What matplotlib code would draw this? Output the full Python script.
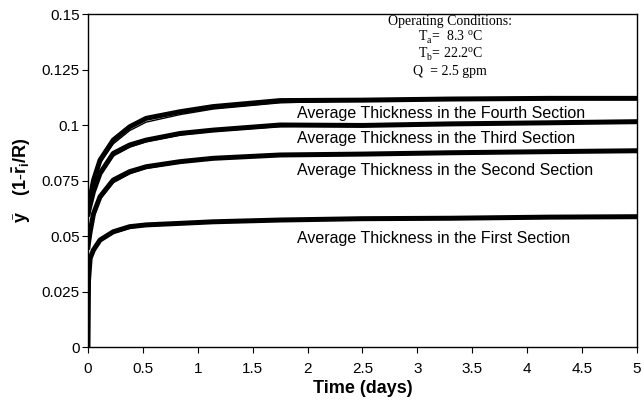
import matplotlib

matplotlib.use("Agg")

import matplotlib.pyplot as plt

plt.rcParams["font.family"] = ["Liberation Sans", "DejaVu Sans"]
plt.rcParams["mathtext.fontset"] = "custom"
plt.rcParams["mathtext.rm"] = "Liberation Serif"
plt.rcParams["mathtext.bf"] = "Liberation Sans:bold"

# time in days
time_days = [0, 0.005, 0.02, 0.05, 0.11, 0.23, 0.38, 0.53, 0.84, 1.14, 1.75, 2.5, 3.3, 4.2, 5]

first_measured = [0.0, 0.030, 0.040, 0.0437, 0.0482, 0.0519, 0.0542, 0.0550, 0.0557, 0.0564, 0.0572, 0.0578, 0.0580, 0.0585, 0.0587]
second_measured = [0.045, 0.047, 0.052, 0.060, 0.0677, 0.0752, 0.0790, 0.0812, 0.0835, 0.0850, 0.0865, 0.0869, 0.0875, 0.0880, 0.0884]
third_measured = [0.060, 0.061, 0.064, 0.070, 0.0782, 0.0872, 0.0910, 0.0932, 0.0962, 0.0977, 0.1000, 0.0998, 0.1005, 0.1010, 0.1015]
fourth_measured = [0.060, 0.062, 0.067, 0.075, 0.0842, 0.0932, 0.0992, 0.1030, 0.1060, 0.1083, 0.1110, 0.1112, 0.1117, 0.1120, 0.1120]

# smooth model curves drawn over the data
first_model = [0.0, 0.028, 0.039, 0.0430, 0.0475, 0.0512, 0.0535, 0.0546, 0.0556, 0.0563, 0.0571, 0.0577, 0.0580, 0.0583, 0.0585]
second_model = [0.045, 0.046, 0.051, 0.058, 0.0665, 0.0740, 0.0780, 0.0805, 0.0830, 0.0846, 0.0862, 0.0870, 0.0875, 0.0878, 0.0880]
third_model = [0.060, 0.060, 0.063, 0.069, 0.0772, 0.0860, 0.0900, 0.0925, 0.0955, 0.0972, 0.0993, 0.1000, 0.1005, 0.1008, 0.1010]
fourth_model = [0.060, 0.061, 0.065, 0.073, 0.0828, 0.0915, 0.0975, 0.1013, 0.1047, 0.1072, 0.1100, 0.1110, 0.1115, 0.1118, 0.1120]

section_labels = [
    "Average Thickness in the First Section",
    "Average Thickness in the Second Section",
    "Average Thickness in the Third Section",
    "Average Thickness in the Fourth Section",
]
label_y = [0.0491, 0.0797, 0.0941, 0.1054]
label_x = 1.9

conditions = [
    "Operating Conditions:",
    r"T$_{\mathrm{a}}$=  8.3 $^{\mathrm{o}}$C",
    r"T$_{\mathrm{b}}$= 22.2$^{\mathrm{o}}$C",
    "Q  = 2.5 gpm",
]
conditions_y = [0.1468, 0.1393, 0.1318, 0.1243]
conditions_x = 3.3

x_ticks = [0, 0.5, 1, 1.5, 2, 2.5, 3, 3.5, 4, 4.5, 5]
y_ticks = [0, 0.025, 0.05, 0.075, 0.1, 0.125, 0.15]

fig = plt.figure(figsize=(6.44, 4.05), dpi=100)
ax = fig.add_axes([0.1366, 0.1432, 0.8525, 0.8222])

for series in [first_measured, second_measured, third_measured, fourth_measured]:
    ax.plot(time_days, series, color="black", linewidth=3.6, solid_joinstyle="round")
for series in [first_model, second_model, third_model, fourth_model]:
    ax.plot(time_days, series, color="black", linewidth=1.0)

for text, y in zip(section_labels, label_y):
    ax.text(label_x, y, text, fontsize=11.5, ha="left", va="center")

for text, y in zip(conditions, conditions_y):
    ax.text(conditions_x, y, text, fontsize=10, ha="center", va="center", family="Liberation Serif")

ax.set_xlim(0, 5)
ax.set_ylim(0, 0.15)
ax.set_xticks(x_ticks)
ax.set_xticklabels([f"{v:g}" for v in x_ticks])
ax.set_yticks(y_ticks)
ax.set_yticklabels([f"{v:g}" for v in y_ticks])
ax.tick_params(axis="both", direction="out", length=4, width=0.8, labelsize=11, colors="black")
ax.tick_params(axis="x", pad=7)
ax.tick_params(axis="y", pad=2)

ax.set_xlabel("Time (days)", fontsize=13, fontweight="bold", labelpad=3)
ax.set_ylabel(r"$\bar{\mathbf{y}}\quad\mathbf{(1\text{-}\bar{r}_{i}/R)}$", fontsize=13, labelpad=6)

for spine in ax.spines.values():
    spine.set_linewidth(1.0)

fig.savefig("out.png", dpi=100)
plt.close(fig)
